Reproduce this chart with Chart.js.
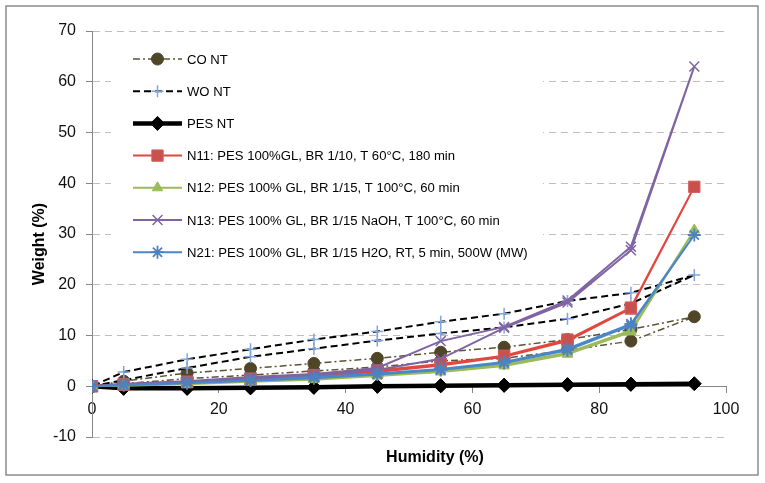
<!DOCTYPE html>
<html>
<head>
<meta charset="utf-8">
<script src="https://cdn.jsdelivr.net/npm/chart.js@4.4.1/dist/chart.umd.min.js"></script>
<style>
  html, body { margin: 0; padding: 0; background: #fff; }
  #wrap { width: 765px; height: 483px; }
</style>
</head>
<body>
<div id="wrap"><canvas id="chart" width="765" height="483"></canvas></div>
<script>
// humidity path: sorption 0 -> 95 then desorption back to 0
const humidity = [0, 5, 15, 25, 35, 45, 55, 65, 75, 85, 95, 85, 75, 65, 55, 45, 35, 25, 15, 5, 0];

const coNT  = [0, 0.5, 1.5, 2.2, 3.0, 3.8, 5.0, 5.5, 7.1, 8.9, 13.7, 11.2, 9.2, 7.7, 6.7, 5.5, 4.5, 3.5, 2.6, 1.0, 0];
const woNT  = [0, 1.2, 3.6, 5.8, 7.4, 9.0, 10.4, 11.6, 13.3, 16.3, 21.9, 18.4, 16.8, 14.3, 12.7, 10.8, 9.2, 7.3, 5.3, 2.8, 0];
const pesNT = [0, -0.4, -0.4, -0.3, -0.2, 0, 0.1, 0.2, 0.3, 0.4, 0.5, 0.4, 0.3, 0.2, 0.1, 0, -0.2, -0.3, -0.4, -0.4, 0];
const n11   = [0, 0.3, 0.8, 1.3, 2.0, 2.8, 4.1, 5.8, 8.9, 15.3, 39.3, 15.5, 9.2, 6.0, 4.4, 3.1, 2.2, 1.5, 0.9, 0.4, 0];
const n12   = [0, 0.1, 0.4, 0.9, 1.3, 2.0, 2.8, 4.0, 6.3, 10.7, 30.8, 11.0, 6.6, 4.3, 3.0, 2.2, 1.5, 1.0, 0.5, 0.2, 0];
const n13   = [0, 0.4, 0.9, 1.6, 2.1, 3.2, 5.4, 11.5, 16.5, 26.8, 63.0, 27.5, 16.9, 11.7, 8.9, 3.6, 2.4, 1.8, 1.0, 0.5, 0];
const n21   = [0, 0.2, 0.6, 1.1, 1.6, 2.3, 3.2, 4.6, 7.1, 12.0, 29.8, 12.3, 7.4, 4.8, 3.4, 2.5, 1.8, 1.2, 0.7, 0.3, 0];

const labels = [
  'CO NT',
  'WO NT',
  'PES NT',
  'N11: PES 100%GL, BR 1/10, T 60°C, 180 min',
  'N12: PES 100% GL, BR 1/15, T 100°C, 60 min',
  'N13: PES 100% GL, BR 1/15 NaOH, T 100°C, 60 min',
  'N21: PES 100% GL, BR 1/15 H2O, RT, 5 min, 500W (MW)'
];

const yTicks = [-10, 0, 10, 20, 30, 40, 50, 60, 70];
const xTicks = [0, 20, 40, 60, 80, 100];

function pts(vals) {
  return vals.map((v, i) => ({ x: humidity[i], y: v }));
}

const styles = [
  { line: '#5b5434', width: 1.5, dash: [7, 3, 2, 3], marker: 'circle', mFill: '#4f4628', mStroke: '#4f4628', r: 6, mw: 1 },
  { line: '#000000', width: 2, dash: [7, 4], marker: 'cross', mFill: '#7fa5da', mStroke: '#7fa5da', r: 6, mw: 1.5 },
  { line: '#000000', width: 4.5, dash: [], marker: 'rectRot', mFill: '#000000', mStroke: '#000000', r: 7, mw: 1 },
  { line: '#e2473f', width: 2, dash: [], marker: 'rect', mFill: '#c9504d', mStroke: '#d2605c', r: 8, mw: 1 },
  { line: '#9bbb59', width: 2, dash: [], marker: 'triangle', mFill: '#9bbb59', mStroke: '#9bbb59', r: 6, mw: 1 },
  { line: '#8064a2', width: 2, dash: [], marker: 'crossRot', mFill: '#8064a2', mStroke: '#8064a2', r: 7, mw: 1.5 },
  { line: '#4a86c8', width: 2, dash: [], marker: 'star', mFill: '#4f81bd', mStroke: '#4f81bd', r: 6.5, mw: 1.8 }
];

const series = [coNT, woNT, pesNT, n11, n12, n13, n21];

const datasets = series.map((vals, i) => ({
  label: labels[i],
  data: pts(vals),
  showLine: true,
  borderColor: styles[i].line,
  borderWidth: styles[i].width,
  borderDash: styles[i].dash,
  pointStyle: styles[i].marker,
  pointRadius: styles[i].r,
  pointBackgroundColor: styles[i].mFill,
  pointBorderColor: styles[i].mStroke,
  pointBorderWidth: styles[i].mw,
  tension: 0,
  order: 7 - i
}));

// frame, axis titles and the legend box
const decor = {
  id: 'decor',
  beforeDraw(chart) {
    const ctx = chart.ctx;
    ctx.save();
    ctx.fillStyle = '#fff';
    ctx.fillRect(0, 0, chart.width, chart.height);
    ctx.strokeStyle = '#8c8c8c';
    ctx.lineWidth = 1.5;
    ctx.strokeRect(6, 6, 752, 469);
    ctx.restore();
  },
  afterDraw(chart) {
    const ctx = chart.ctx;
    ctx.save();

    // axis titles
    ctx.fillStyle = '#000';
    ctx.font = 'bold 16px "Liberation Sans", Arial, sans-serif';
    ctx.textAlign = 'center';
    ctx.textBaseline = 'middle';
    ctx.fillText('Humidity (%)', 435, 458);
    ctx.translate(40, 244);
    ctx.rotate(-Math.PI / 2);
    ctx.fillText('Weight (%)', 0, 0);
    ctx.setTransform(1, 0, 0, 1, 0, 0);

    // legend
    ctx.fillStyle = '#fff';
    ctx.fillRect(111, 38, 432, 238);
    let size = 14;
    ctx.font = size + 'px "Liberation Sans", Arial, sans-serif';
    const w = ctx.measureText(labels[6]).width;
    size = size * 341 / w;
    ctx.font = size + 'px "Liberation Sans", Arial, sans-serif';
    ctx.textAlign = 'left';
    ctx.textBaseline = 'middle';
    for (let i = 0; i < labels.length; i++) {
      const s = styles[i];
      const y = 59 + i * 32.2;
      ctx.strokeStyle = s.line;
      ctx.lineWidth = s.width;
      ctx.setLineDash(s.dash);
      ctx.beginPath();
      ctx.moveTo(133, y);
      ctx.lineTo(182, y);
      ctx.stroke();
      ctx.setLineDash([]);
      ctx.fillStyle = s.mFill;
      ctx.strokeStyle = s.mStroke;
      ctx.lineWidth = s.mw;
      Chart.helpers.drawPoint(ctx, { pointStyle: s.marker, radius: s.r, rotation: 0, borderWidth: s.mw }, 157.5, y);
      ctx.fillStyle = '#000';
      ctx.fillText(labels[i], 187, y + 1);
    }
    ctx.restore();
  }
};

new Chart(document.getElementById('chart'), {
  type: 'scatter',
  data: { datasets },
  options: {
    responsive: false,
    animation: false,
    layout: { padding: { left: 0, right: 39, top: 31, bottom: 46 } },
    plugins: {
      legend: { display: false },
      tooltip: { enabled: false }
    },
    scales: {
      x: {
        type: 'linear',
        position: { y: 0 },
        min: 0,
        max: 100,
        afterBuildTicks: (s) => { s.ticks = xTicks.map(v => ({ value: v })); },
        grid: { drawOnChartArea: false, drawTicks: true, tickLength: 6, tickColor: '#868686' },
        border: { color: '#868686', width: 1 },
        ticks: {
          padding: 8,
          color: '#111',
          font: { family: '"Liberation Sans", Arial, sans-serif', size: 16 }
        }
      },
      y: {
        type: 'linear',
        min: -10,
        max: 70,
        afterBuildTicks: (s) => { s.ticks = yTicks.map(v => ({ value: v })); },
        afterFit: (s) => { s.width = 92; },
        grid: { color: '#bfbfbf', lineWidth: 1, tickLength: 6, tickColor: '#868686', tickBorderDash: [] },
        border: { color: '#868686', width: 1, dash: [7, 5] },
        ticks: {
          padding: 10,
          color: '#111',
          font: { family: '"Liberation Sans", Arial, sans-serif', size: 16 }
        }
      }
    }
  },
  plugins: [decor]
});
</script>
</body>
</html>
